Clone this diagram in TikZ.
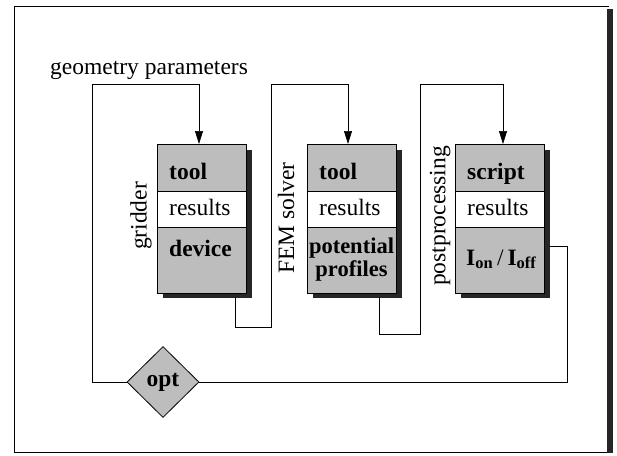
\documentclass[tikz,border=0pt]{standalone}
\usepackage{fontspec}
\setmainfont{Liberation Serif}
\usetikzlibrary{shapes.geometric,arrows.meta}
\begin{document}
\begin{tikzpicture}[x=1pt,y=-1pt,
  every node/.style={font=\fontsize{23.5}{26}\selectfont},
  boxpart/.style={draw=black, line width=0.8pt, fill=black!26, minimum width=89pt, inner sep=0pt, outer sep=0pt},
  whitepart/.style={draw=black, line width=0.8pt, fill=white, minimum width=89pt, inner sep=0pt, outer sep=0pt},
  lbl/.style={anchor=base west, inner sep=0pt, font=\fontsize{23.5}{26}\selectfont\bfseries},
  rlbl/.style={anchor=base west, inner sep=0pt, font=\fontsize{23.5}{26}\selectfont},
  clbl/.style={anchor=base, inner sep=0pt, font=\fontsize{22.5}{26}\selectfont\bfseries},
  vlbl/.style={rotate=90, inner sep=0pt},
  conn/.style={line width=0.7pt},
  arr/.style={line width=0.7pt, -{Triangle[length=13pt,width=8pt]}},
]
\useasboundingbox (0,0) rectangle (617,455);
% frame
\draw[line width=0.9pt] (14,6) -- (609,6);
\draw[line width=0.9pt] (14,6) -- (14,452) -- (609,452);
\fill[black!85] (607,9) rectangle (613,453);

% geometry parameters
\node[anchor=base west, inner sep=0pt] (geo) at (50,74) {geometry parameters};

% ---- boxes: shadows
\foreach \xl in {157,307,455} {
  \fill[black!85] (\xl+6,150) rectangle (\xl+95,298);
}
% box 1
\node[boxpart, minimum height=47pt, anchor=north west] (b1t) at (157,144) {};
\node[whitepart, minimum height=36pt, anchor=north west] (b1r) at (157,191) {};
\node[boxpart, minimum height=66pt, anchor=north west] (b1b) at (157,227) {};
\node[lbl] (t1) at (169,179) {tool};
\node[rlbl] (r1) at (169,215) {results};
\node[lbl] (d1) at (169,256) {device};
% box 2
\node[boxpart, minimum height=47pt, anchor=north west] (b2t) at (307,144) {};
\node[whitepart, minimum height=36pt, anchor=north west] (b2r) at (307,191) {};
\node[boxpart, minimum height=66pt, anchor=north west] (b2b) at (307,227) {};
\node[lbl] (t2) at (319,179) {tool};
\node[rlbl] (r2) at (319,215) {results};
\node[clbl] (p2a) at (351.5,253) {potential};
\node[clbl] (p2b) at (351.5,276) {profiles};
% box 3
\node[boxpart, minimum height=47pt, anchor=north west] (b3t) at (455,144) {};
\node[whitepart, minimum height=36pt, anchor=north west] (b3r) at (455,191) {};
\node[boxpart, minimum height=66pt, anchor=north west] (b3b) at (455,227) {};
\node[lbl] (t3) at (467,179) {script};
\node[rlbl] (r3) at (467,215) {results};
\node[lbl] (d3) at (466,265) {I\textsubscript{on}\,\textmd{/}\,I\textsubscript{off}};

% rotated labels
\node[vlbl] (lg) at (141,216) {gridder};
\node[vlbl] (lf) at (286,218) {FEM solver};
\node[vlbl] (lp) at (440,216) {postprocessing};

% diamond
\node[diamond, draw=black, line width=0.8pt, fill=black!26, minimum width=72pt, minimum height=71pt, inner sep=0pt, font=\fontsize{23.5}{26}\selectfont\bfseries] (opt) at (163,382) {opt};

% coordinates
\coordinate (c1) at (235,298);
\coordinate (c2) at (379,298);
\coordinate (c3) at (549,246);

% connectors
\draw[arr] (opt.west) -- (92,382) -- (92,84) -- (199,84) -- (b1t.north -| 199,0);
\draw[arr] (c1) -- (235,327) -- (271,327) -- (271,84) -- (348,84) -- (b2t.north -| 348,0);
\draw[arr] (c2) -- (379,334) -- (420,334) -- (420,84) -- (503,84) -- (b3t.north -| 503,0);
\draw[conn] (c3) -- (567,246) -- (567,382) -- (opt.east);
\end{tikzpicture}
\end{document}
